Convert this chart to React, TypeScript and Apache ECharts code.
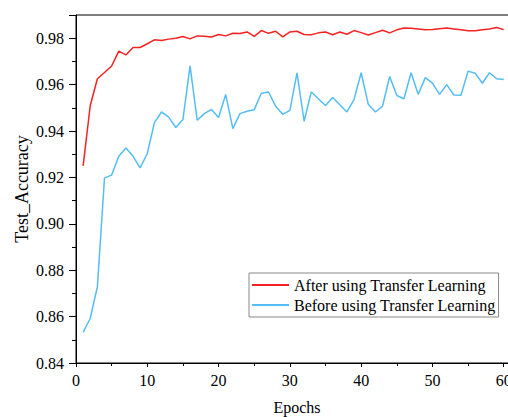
import React, { useEffect, useRef } from "react";
import * as echarts from "echarts";

const epochs: number[] = Array.from({ length: 60 }, (_, i) => i + 1);

const afterTL: number[] = [
  0.925, 0.951, 0.9625, 0.9652, 0.968, 0.9744, 0.9728, 0.976, 0.976, 0.9776,
  0.9793, 0.979, 0.9796, 0.98, 0.9807, 0.9797, 0.981, 0.9808, 0.9805, 0.9816,
  0.981, 0.9821, 0.982, 0.9827, 0.9808, 0.9833, 0.9821, 0.983, 0.9806, 0.9827,
  0.983, 0.9816, 0.9815, 0.9823, 0.9827, 0.9815, 0.9827, 0.9817, 0.9833, 0.9824,
  0.9814, 0.9824, 0.9834, 0.9823, 0.9836, 0.9844, 0.9843, 0.984, 0.9836, 0.9837,
  0.9841, 0.9844, 0.984, 0.9836, 0.9832, 0.9832, 0.9836, 0.984, 0.9846, 0.9837,
];

const beforeTL: number[] = [
  0.8532, 0.8593, 0.8729, 0.9198, 0.921, 0.9291, 0.9327, 0.9291, 0.9241, 0.9303,
  0.9436, 0.9482, 0.946, 0.9415, 0.945, 0.9681, 0.9446, 0.9475, 0.9493, 0.9458,
  0.9557, 0.941, 0.9475, 0.9485, 0.9492, 0.9563, 0.9568, 0.9507, 0.9472, 0.9489,
  0.9651, 0.9442, 0.9568, 0.9539, 0.951, 0.9544, 0.9513, 0.9482, 0.9535, 0.9651,
  0.9515, 0.9482, 0.9507, 0.9635, 0.9553, 0.9539, 0.9651, 0.9558, 0.963, 0.9606,
  0.9558, 0.96, 0.9555, 0.9554, 0.9658, 0.9649, 0.9606, 0.9651, 0.9625, 0.9622,
];

const seriesNames = ["After using Transfer Learning", "Before using Transfer Learning"];
const FONT = "'Liberation Serif', 'Times New Roman', serif";

export default function App() {
  const ref = useRef<HTMLDivElement>(null);
  useEffect(() => {
    if (!ref.current) return;
    const chart = echarts.init(ref.current, undefined, { renderer: "svg" });
    chart.setOption({
      animation: false,
      backgroundColor: "#fff",
      textStyle: { fontFamily: FONT },
      grid: {
        left: 76,
        top: 15,
        width: 442,
        height: 348,
        show: true,
        borderColor: "#000",
        borderWidth: 1,
        containLabel: false,
        outerBoundsMode: "none",
      },
      legend: {
        orient: "vertical",
        left: 249,
        top: 273,
        data: seriesNames,
        icon: "rect",
        itemWidth: 37,
        itemHeight: 2,
        itemGap: 2,
        padding: [3, 3, 3, 3],
        borderColor: "#888",
        borderWidth: 1,
        textStyle: { fontFamily: FONT, fontSize: 16, color: "#000", lineHeight: 18 },
      },
      xAxis: {
        type: "value",
        min: 0,
        max: 62,
        interval: 10,
        name: "Epochs",
        nameLocation: "middle",
        nameGap: 36,
        nameMoveOverlap: false,
        nameTextStyle: { fontFamily: FONT, fontSize: 16, color: "#000" },
        axisLine: { show: true, lineStyle: { color: "#000", width: 1 } },
        axisTick: { show: true, length: 4, lineStyle: { color: "#000" } },
        minorTick: { show: true, splitNumber: 2, length: 3, lineStyle: { color: "#000" } },
        axisLabel: { fontFamily: FONT, fontSize: 16, color: "#000", margin: 9, showMaxLabel: false },
        splitLine: { show: false },
      },
      yAxis: {
        type: "value",
        min: 0.84,
        max: 0.99,
        interval: 0.02,
        name: "Test_Accuracy",
        nameLocation: "middle",
        nameGap: 45,
        nameMoveOverlap: false,
        nameTextStyle: { fontFamily: FONT, fontSize: 18, color: "#000" },
        axisLine: { show: true, lineStyle: { color: "#000", width: 1 } },
        axisTick: { show: true, length: 7, lineStyle: { color: "#000" } },
        minorTick: { show: true, splitNumber: 2, length: 4, lineStyle: { color: "#000" } },
        axisLabel: {
          fontFamily: FONT,
          fontSize: 16,
          color: "#000",
          margin: 12,
          showMaxLabel: false,
          formatter: (v: number) => v.toFixed(2),
        },
        splitLine: { show: false },
      },
      series: [
        {
          name: seriesNames[1],
          type: "line",
          data: epochs.map((e, i) => [e, beforeTL[i]]),
          symbol: "none",
          lineStyle: { color: "#55bdf5", width: 1.5 },
          itemStyle: { color: "#55bdf5" },
        },
        {
          name: seriesNames[0],
          type: "line",
          data: epochs.map((e, i) => [e, afterTL[i]]),
          symbol: "none",
          lineStyle: { color: "#f52222", width: 1.5 },
          itemStyle: { color: "#f52222" },
        },
      ],
    });
    return () => chart.dispose();
  }, []);
  return (
    <div
      ref={ref}
      style={{ position: "fixed", left: 0, top: 0, width: 508, height: 417, background: "#fff" }}
    />
  );
}
